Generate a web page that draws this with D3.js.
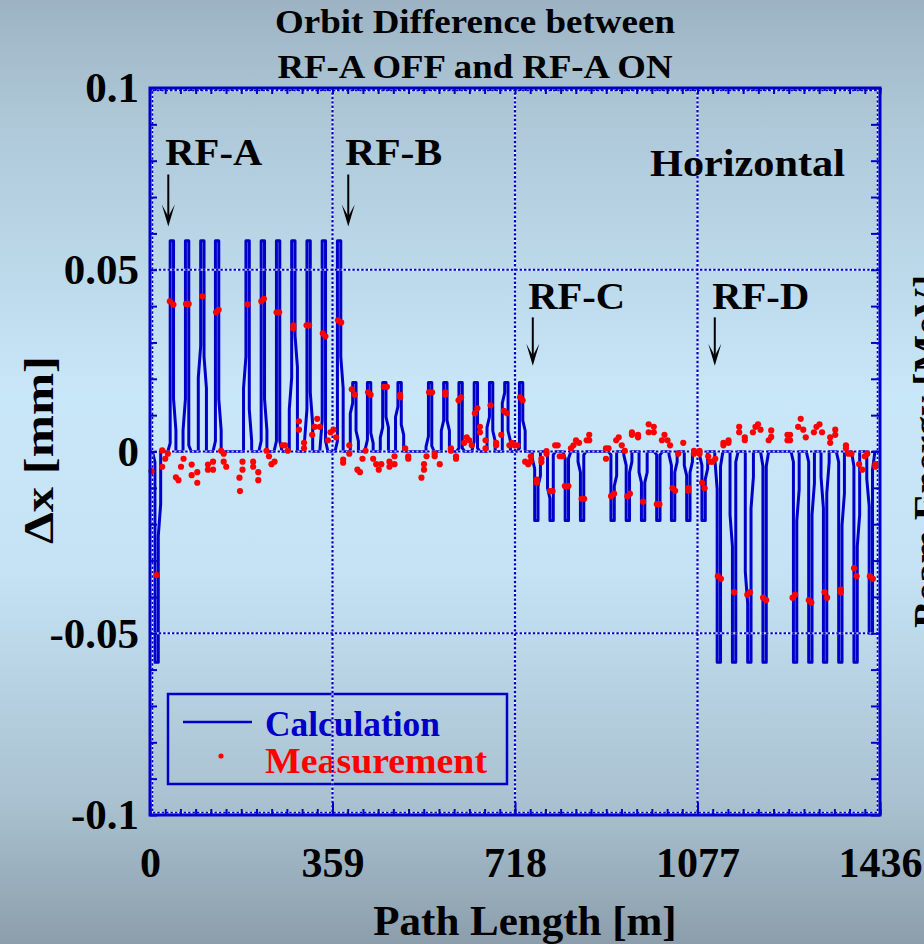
<!DOCTYPE html>
<html>
<head>
<meta charset="utf-8">
<script src="https://cdn.jsdelivr.net/npm/d3@7"></script>
<style>
  html, body { margin: 0; padding: 0; overflow: hidden; background: #b8d2e2; }
  svg { display: block; }
  text { font-family: "Liberation Serif", "Times New Roman", serif; font-weight: bold; }
</style>
</head>
<body>
<svg id="chart" width="924" height="944"></svg>
<script>
// ------------------------------------------------------------------
// Data
// ------------------------------------------------------------------
// Ring: 1436 m, 48 cells (4 of them long straight sections with no bump)
const ringLength = 1436;

// centre of each dispersive cell along the ring [m]
const cellS = [
  13, 43, 73, 103, 132, 192, 222, 252, 282, 312, 342, 372,
  402, 431, 461, 491, 551, 581, 611, 641, 671, 701, 730,
  760, 790, 820, 850, 910, 940, 970, 1000, 1029, 1059, 1089,
  1119, 1149, 1179, 1209, 1269, 1299, 1328, 1358, 1388, 1418
];
// calculated orbit shift at the bump maximum in each cell [mm]
const cellPeak = [
  -0.058, 0.058, 0.058, 0.058, 0.058, 0.058, 0.058, 0.058, 0.058, 0.058, 0.058, 0.058,
  0.019, 0.019, 0.019, 0.019, 0.019, 0.019, 0.019, 0.019, 0.019, 0.019, 0.019,
  -0.019, -0.019, -0.019, -0.019, -0.019, -0.019, -0.019, -0.019, -0.019, -0.019, -0.019,
  -0.058, -0.058, -0.058, -0.058, -0.058, -0.058, -0.058, -0.058, -0.058, -0.050
];
// shoulder height on the upstream / downstream side of each bump (fraction of peak)
const kneeL = [
  0.05, 0.04, 0.25, 0.50, 0.05, 0.45, 0.05, 0.05, 0.35, 0.20, 0.15, 0.05,
  0.70, 0.17, 0.35, 0.65, 0.22, 0.45, 0.05, 0.15, 0.50, 0.85, 0.05,
  0.25, 0.68, 0.10, 0.30, 0.05, 0.20, 0.45, 0.05, 0.20, 0.35, 0.20,
  0.18, 0.45, 0.72, 0.07, 0.05, 0.05, 0.27, 0.05, 0.07, 0.30
];
const kneeR = [
  0.40, 0.25, 0.03, 0.45, 0.25, 0.20, 0.25, 0.05, 0.55, 0.28, 0.05, 0.45,
  0.30, 0.27, 0.50, 0.39, 0.08, 0.45, 0.05, 0.05, 0.30, 0.30, 0.45,
  0.50, 0.05, 0.10, 0.05, 0.50, 0.30, 0.45, 0.05, 0.30, 0.30, 0.40,
  0.07, 0.05, 0.27, 0.07, 0.33, 0.30, 0.20, 0.35, 0.45, 0.10
];
// bump geometry [m]: half-width of the inner (peak) part and of the outer foot,
// and the drop (fraction of peak) across the sloped shoulder
const bumpShape = { inner: 3.3, outer: 8, shoulderDrop: 0.15 };

// measured orbit difference at the BPMs, per RF section: [s (m), dx (mm)]
const measA = [
  [3,-0.0054],[13,-0.034],[24,0.0003],[24,-0.0042],[30,-0.002],[35,-0.0006],[39,0.0413],[46,0.0404],
  [51,-0.0071],[56,-0.0079],[61,-0.0042],[66,-0.002],[71,0.0406],[76,0.0406],[82,-0.0036],[82,-0.0065],
  [93,-0.0057],[93,-0.0086],[103,0.0427],[114,-0.0036],[114,-0.005],[124,-0.0028],[124,-0.005],[130,0.0383],
  [135,0.039],[140,0.0002],[145,-0.0006],[145,-0.0028],[150,-0.0042],[176,-0.0072],[177,-0.0109],[182,-0.0028],
  [182,-0.005],[192,0.0405],[203,-0.0028],[203,-0.0042],[213,-0.0057],[213,-0.0079],[219,0.0413],[224,0.042],
  [229,0.0002],[234,-0.0013],[239,-0.0035],[245,-0.0028],[249,0.0383],[254,0.0383],[261,0.0017],[266,0.0017],
  [271,0.0002],[282,0.0347],[282,0.0339],[293,0.0083],[293,0.006],[303,0.0024],[303,0.0009],[308,0.0347],
  [313,0.0347],[319,0.0046],[324,0.0068],[329,0.009],[334,0.0068],[340,0.0325],[345,0.0317],[350,0.0031],
  [355,0.0053],[361,0.006],[366,0.0039],[370,0.0361],[376,0.0355]
];
const measB = [
  [380,-0.0022],[380,-0.0031],[392,0.0017],[392,-0.0006],[397,0.0171],[403,0.0156],[408,-0.005],[413,-0.0057],
  [418,-0.002],[424,0.0002],[429,0.0163],[434,0.0156],[439,-0.002],[445,-0.0035],[450,-0.005],[455,-0.0035],
  [460,0.0178],[466,0.0178],[471,-0.0028],[471,-0.0042],[481,-0.0013],[481,-0.0035],[492,0.0156],[492,0.0149],
  [502,0.0009],[508,-0.0013],[508,-0.002],[534,-0.0072],[539,-0.0035],[539,-0.005],[544,-0.0013],[549,0.0163],
  [555,0.0163],[560,-0.0006],[560,-0.0013],[570,-0.0035],[581,0.0163],[581,0.0156],[592,0.0009],[592,0.0002],
  [602,-0.0013],[602,-0.002],[607,0.0141],[612,0.0149],[618,0.0024],[623,0.0039],[628,0.0031],[633,0.0017],
  [639,0.0105],[644,0.0119],[649,0.0068],[649,0.0053],[660,0.0031],[660,0.0009],[670,0.0127],[681,0.0024],
  [681,0.0017],[691,0.0046],[696,0.0112],[702,0.0105],[707,0.0017],[712,0.0024],[717,0.0017],[723,0.0017],
  [728,0.0149],[733,0.0141],[738,-0.0028],[744,-0.0035]
];
const measC = [
  [749,-0.0013],[749,-0.0027],[761,-0.0077],[761,-0.0086],[770,-0.002],[770,-0.0029],[780,0.0001],[780,-0.0006],
  [787,-0.0109],[792,-0.0109],[797,0.0017],[802,0.0017],[806,-0.0013],[812,-0.0013],[816,-0.0095],[823,-0.0095],
  [828,0.0009],[833,0.0017],[838,0.0031],[844,0.0024],[849,-0.013],[854,-0.013],[859,0.0031],[864,0.0046],
  [864,0.0031],[897,0.0009],[902,0.0009],[897,-0.002],[907,-0.0123],[913,-0.0116],[917,0.0031],[922,0.0039],
  [928,0.0017],[934,0.0002],[939,-0.0123],[944,-0.0116],[948,0.0053],[948,0.0046],[960,0.0046],[960,0.0039],
  [970,-0.0138],[981,0.0075],[991,0.0068],[981,0.0053],[991,0.0053],[997,-0.0145],[1002,-0.0145],[1007,0.0031],
  [1012,0.0046],[1018,0.0031],[1023,0.0017],[1028,-0.0101],[1033,-0.0108],[1039,-0.0006],[1049,0.0024],[1059,-0.0101],
  [1059,-0.0108],[1070,0.0002],[1070,-0.0006],[1081,0.0002],[1081,-0.0006],[1086,-0.0086],[1091,-0.0101],[1098,-0.0013]
];
const measD = [
  [1102,-0.0028],[1107,-0.0028],[1112,-0.002],[1117,-0.0343],[1123,-0.035],[1128,0.0024],[1128,0.0017],[1138,0.0031],
  [1138,0.0024],[1149,-0.0387],[1159,0.0068],[1159,0.0053],[1170,0.0039],[1170,0.0031],[1175,-0.0394],[1180,-0.0387],
  [1186,0.0053],[1191,0.0068],[1196,0.0075],[1201,0.006],[1206,-0.0402],[1212,-0.0409],[1217,0.0031],[1222,0.0058],
  [1222,0.004],[1254,0.0046],[1254,0.0031],[1259,0.0046],[1259,0.0031],[1264,-0.0402],[1269,-0.0394],[1275,0.0068],
  [1280,0.009],[1285,0.006],[1290,0.0039],[1296,-0.0409],[1301,-0.0416],[1306,0.0053],[1311,0.0068],[1317,0.0075],
  [1322,0.0053],[1327,-0.0387],[1332,-0.0402],[1338,0.0039],[1338,0.0024],[1348,0.006],[1348,0.0046],[1359,-0.038],
  [1359,-0.0387],[1369,0.0017],[1369,0.0009],[1374,-0.0006],[1380,-0.0006],[1385,-0.0321],[1390,-0.0343],[1395,-0.0035],
  [1401,-0.005],[1406,-0.0013],[1411,-0.0006],[1416,-0.0343],[1422,-0.035],[1427,-0.0035],[1427,-0.0042]
];

// RF cavity stations: label position and arrow (s in m, dx in mm)
const rfStations = [
  { name: "RF-A", labelS: 30,   labelDx: 0.0787, arrowS: 36,   arrowTop: 0.0762, arrowTip: 0.0619 },
  { name: "RF-B", labelS: 384,  labelDx: 0.0787, arrowS: 390,  arrowTop: 0.0762, arrowTip: 0.0619 },
  { name: "RF-C", labelS: 744,  labelDx: 0.0393, arrowS: 753,  arrowTop: 0.0369, arrowTip: 0.0236 },
  { name: "RF-D", labelS: 1106, labelDx: 0.0393, arrowS: 1111, arrowTop: 0.0369, arrowTip: 0.0236 }
];

const xTickValues = [0, 359, 718, 1077, 1436];
const yTickValues = [-0.1, -0.05, 0, 0.05, 0.1];
const yTickLabels = ["-0.1", "-0.05", "0", "0.05", "0.1"];

// ------------------------------------------------------------------
// Layout
// ------------------------------------------------------------------
const W = 924, H = 944;
const plot = { left: 150, right: 880, top: 88, bottom: 815 };
const BLUE = "#0000c8", RED = "#ff0000";

const svg = d3.select("#chart");
const x = d3.scaleLinear().domain([0, ringLength]).range([plot.left, plot.right]);
const y = d3.scaleLinear().domain([-0.1, 0.1]).range([plot.bottom, plot.top]);

// background gradient
const defs = svg.append("defs");
const grad = defs.append("linearGradient").attr("id", "bg")
  .attr("x1", 0).attr("y1", 0).attr("x2", 0).attr("y2", 1);
[[0, "#9db3c3"], [0.12, "#adc7d7"], [0.42, "#c8e7f9"], [0.6, "#c5e3f5"], [0.85, "#a9c1d0"], [1, "#8c9eab"]]
  .forEach(([o, c]) => grad.append("stop").attr("offset", o).attr("stop-color", c));
svg.append("rect").attr("width", W).attr("height", H).attr("fill", "url(#bg)");

defs.append("clipPath").attr("id", "plotClip").append("rect")
  .attr("x", plot.left).attr("y", plot.top)
  .attr("width", plot.right - plot.left).attr("height", plot.bottom - plot.top);

// ------------------------------------------------------------------
// Legend (drawn under the grid)
// ------------------------------------------------------------------
const legend = svg.append("g");
legend.append("rect").attr("x", 168).attr("y", 694).attr("width", 339).attr("height", 90)
  .attr("fill", "none").attr("stroke", BLUE).attr("stroke-width", 2.5);
legend.append("line").attr("x1", 183).attr("x2", 252).attr("y1", 722).attr("y2", 722)
  .attr("stroke", BLUE).attr("stroke-width", 2.5);
legend.append("text").attr("x", 265).attr("y", 736).attr("fill", BLUE)
  .attr("font-size", 35).attr("textLength", 175).attr("lengthAdjust", "spacingAndGlyphs")
  .text("Calculation");
legend.append("circle").attr("cx", 221).attr("cy", 756).attr("r", 2.6).attr("fill", RED);
legend.append("text").attr("x", 265).attr("y", 773).attr("fill", RED)
  .attr("font-size", 35).attr("textLength", 222).attr("lengthAdjust", "spacingAndGlyphs")
  .text("Measurement");

// ------------------------------------------------------------------
// Calculated orbit difference
// ------------------------------------------------------------------
const calcPts = [[0, 0]];
cellS.forEach((c, i) => {
  const p = cellPeak[i];
  const kl = kneeL[i], kr = kneeR[i], drop = bumpShape.shoulderDrop;
  calcPts.push(
    [c - bumpShape.outer, 0],
    [c - bumpShape.outer, Math.max(0, kl - drop) * p],
    [c - bumpShape.inner, kl * p],
    [c - bumpShape.inner, p],
    [c + bumpShape.inner, p],
    [c + bumpShape.inner, kr * p],
    [c + bumpShape.outer, Math.max(0, kr - drop) * p],
    [c + bumpShape.outer, 0]
  );
});
calcPts.push([ringLength, 0]);

const line = d3.line().x(d => x(d[0])).y(d => y(d[1]));
svg.append("path").datum(calcPts)
  .attr("clip-path", "url(#plotClip)")
  .attr("d", line).attr("fill", "none")
  .attr("stroke", BLUE).attr("stroke-width", 3).attr("stroke-linejoin", "round");

// ------------------------------------------------------------------
// Grid (dotted, drawn over the curve)
// ------------------------------------------------------------------
const grid = svg.append("g");
const gridX = xTickValues.slice(1, -1), gridY = [-0.05, 0, 0.05];
[["#ffffff", null, 0.75], [BLUE, "2.4,2", 1]].forEach(([col, dash, op]) => {
  grid.selectAll(null).data(gridX).enter().append("line")
    .attr("x1", d => x(d)).attr("x2", d => x(d)).attr("y1", plot.top).attr("y2", plot.bottom)
    .attr("stroke", col).attr("stroke-width", 2.2).attr("stroke-dasharray", dash).attr("opacity", op);
  grid.selectAll(null).data(gridY).enter().append("line")
    .attr("x1", plot.left).attr("x2", plot.right).attr("y1", d => y(d)).attr("y2", d => y(d))
    .attr("stroke", col).attr("stroke-width", 2.2).attr("stroke-dasharray", dash).attr("opacity", op);
  // dotted inner edge of the frame
  grid.append("rect").attr("x", plot.left + 2.5).attr("y", plot.top + 2.5)
    .attr("width", plot.right - plot.left - 5).attr("height", plot.bottom - plot.top - 5)
    .attr("fill", "none").attr("stroke", col).attr("stroke-width", 1.6)
    .attr("stroke-dasharray", dash).attr("opacity", op);
});

// ------------------------------------------------------------------
// Measured points
// ------------------------------------------------------------------
const meas = [].concat(measA, measB, measC, measD);
svg.append("g").selectAll("circle").data(meas).enter().append("circle")
  .attr("cx", d => x(d[0])).attr("cy", d => y(d[1])).attr("r", 3.1).attr("fill", RED);

// ------------------------------------------------------------------
// Frame and tick marks
// ------------------------------------------------------------------
const cellTicks = d3.range(0, 49).map(k => k * ringLength / 48);
const fineTicks = d3.range(0, 145).map(k => k * ringLength / 144);
const yMinor = d3.range(-10, 11).map(k => k / 100);

function tickAxis(axis, tr) {
  const g = svg.append("g").attr("transform", tr).call(axis.tickFormat(""));
  g.select(".domain").remove();
  g.selectAll(".tick line").attr("stroke", BLUE).attr("stroke-width", 2);
  return g;
}
tickAxis(d3.axisTop(x).tickValues(fineTicks).tickSize(-3), `translate(0,${plot.top})`);
tickAxis(d3.axisTop(x).tickValues(cellTicks).tickSize(-6), `translate(0,${plot.top})`);
tickAxis(d3.axisBottom(x).tickValues(cellTicks).tickSize(-6), `translate(0,${plot.bottom})`);
tickAxis(d3.axisBottom(x).tickValues(xTickValues).tickSize(-13), `translate(0,${plot.bottom})`);
tickAxis(d3.axisLeft(y).tickValues(yMinor).tickSize(-7), `translate(${plot.left},0)`);
tickAxis(d3.axisRight(y).tickValues(yMinor).tickSize(-9), `translate(${plot.right},0)`);

svg.append("rect").attr("x", plot.left).attr("y", plot.top)
  .attr("width", plot.right - plot.left).attr("height", plot.bottom - plot.top)
  .attr("fill", "none").attr("stroke", BLUE).attr("stroke-width", 3);

// ------------------------------------------------------------------
// Tick labels and axis titles
// ------------------------------------------------------------------
const yLab = svg.append("g").attr("transform", `translate(${plot.left},0)`)
  .call(d3.axisLeft(y).tickValues(yTickValues).tickSize(0).tickPadding(11)
    .tickFormat((d, i) => yTickLabels[i]));
yLab.select(".domain").remove();
yLab.selectAll("text").attr("font-size", 43).attr("fill", "#000")
  .attr("font-family", "Liberation Serif").attr("font-weight", "bold");

const xLab = svg.append("g").attr("transform", `translate(0,${plot.bottom})`)
  .call(d3.axisBottom(x).tickValues(xTickValues).tickSize(0).tickPadding(32)
    .tickFormat(d3.format("d")));
xLab.select(".domain").remove();
xLab.selectAll("text").attr("font-size", 42).attr("fill", "#000")
  .attr("font-family", "Liberation Serif").attr("font-weight", "bold");

svg.append("text").attr("x", 525).attr("y", 935).attr("text-anchor", "middle")
  .attr("font-size", 43).text("Path Length [m]");
svg.append("text").attr("transform", "translate(53,450) rotate(-90)").attr("text-anchor", "middle")
  .attr("font-size", 42).attr("textLength", 188).attr("lengthAdjust", "spacingAndGlyphs")
  .text("\u0394x [mm]");
svg.append("text").attr("transform", "translate(941,628) rotate(-90)").attr("text-anchor", "start")
  .attr("font-size", 40).text("Beam Energy [MeV]");

// title
svg.append("text").attr("x", 475).attr("y", 33).attr("text-anchor", "middle")
  .attr("font-size", 34).attr("textLength", 400).attr("lengthAdjust", "spacingAndGlyphs")
  .text("Orbit Difference between");
svg.append("text").attr("x", 475).attr("y", 78).attr("text-anchor", "middle")
  .attr("font-size", 34).attr("textLength", 395).attr("lengthAdjust", "spacingAndGlyphs")
  .text("RF-A OFF and RF-A ON");

svg.append("text").attr("x", 650).attr("y", 176).attr("font-size", 38)
  .attr("textLength", 195).attr("lengthAdjust", "spacingAndGlyphs").text("Horizontal");

// ------------------------------------------------------------------
// RF station markers
// ------------------------------------------------------------------
const rf = svg.append("g").selectAll("g").data(rfStations).enter().append("g");
rf.append("text").attr("x", d => x(d.labelS)).attr("y", d => y(d.labelDx))
  .attr("font-size", 38).attr("textLength", 97).attr("lengthAdjust", "spacingAndGlyphs")
  .text(d => d.name);
rf.append("line").attr("x1", d => x(d.arrowS)).attr("x2", d => x(d.arrowS))
  .attr("y1", d => y(d.arrowTop)).attr("y2", d => y(d.arrowTip) - 10)
  .attr("stroke", "#000").attr("stroke-width", 2);
rf.append("path").attr("fill", "#000")
  .attr("d", d => {
    const ax = x(d.arrowS), ty = y(d.arrowTip);
    return `M${ax - 6.5},${ty - 22} L${ax},${ty - 10} L${ax + 6.5},${ty - 22} L${ax},${ty} Z`;
  });
</script>
</body>
</html>
